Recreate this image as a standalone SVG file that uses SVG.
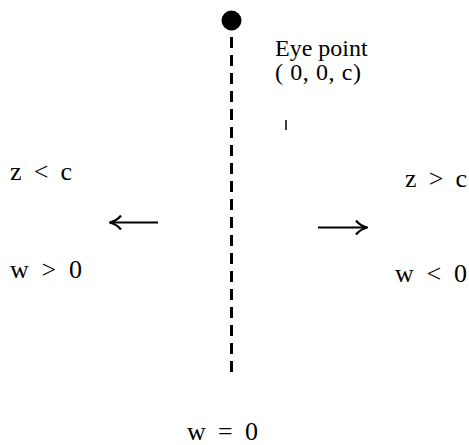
<svg xmlns="http://www.w3.org/2000/svg" width="469" height="445" viewBox="0 0 469 445">
<style>
text { font-family: "Liberation Serif", "Times New Roman", serif; fill: #000; }
.big { font-size: 26px; }
.small { font-size: 24px; }
.arrow { stroke: #000; stroke-width: 2; fill: none; }
</style>
<defs>
<marker id="ah" viewBox="0 0 14 16" refX="13" refY="8" markerWidth="14" markerHeight="16" markerUnits="userSpaceOnUse" orient="auto">
<path d="M2,1 Q6,6 13,8 Q6,10 2,15" fill="none" stroke="#000" stroke-width="2.2"/>
</marker>
</defs>
<rect width="469" height="445" fill="#fff"/>
<g id="eye-point">
<circle cx="231.5" cy="20.5" r="10" fill="#000"/>
<text class="small" x="275" y="56">Eye point</text>
<text class="small" x="275" y="80" textLength="86" lengthAdjust="spacing">( 0, 0, c)</text>
</g>
<g id="plane">
<line x1="231.5" y1="37" x2="231.5" y2="372" stroke="#000" stroke-width="3" stroke-dasharray="11 7"/>
</g>
<g id="tick">
<line x1="286" y1="120" x2="286" y2="130" stroke="#000" stroke-width="1.5"/>
</g>
<g id="left-region">
<text class="big" x="10" y="180" textLength="62" lengthAdjust="spacing">z &lt; c</text>
<text class="big" x="10" y="278" textLength="72" lengthAdjust="spacing">w &gt; 0</text>
</g>
<g id="right-region">
<text class="big" x="405" y="187" textLength="62" lengthAdjust="spacing">z &gt; c</text>
<text class="big" x="395" y="282" textLength="72" lengthAdjust="spacing">w &lt; 0</text>
</g>
<g id="bottom-label">
<text class="big" x="187" y="440" textLength="71" lengthAdjust="spacing">w = 0</text>
</g>
<g id="connectors">
<line class="arrow" x1="158" y1="222.5" x2="110" y2="222.5" marker-end="url(#ah)"/>
<line class="arrow" x1="318" y1="227.5" x2="367" y2="227.5" marker-end="url(#ah)"/>
</g>
</svg>
